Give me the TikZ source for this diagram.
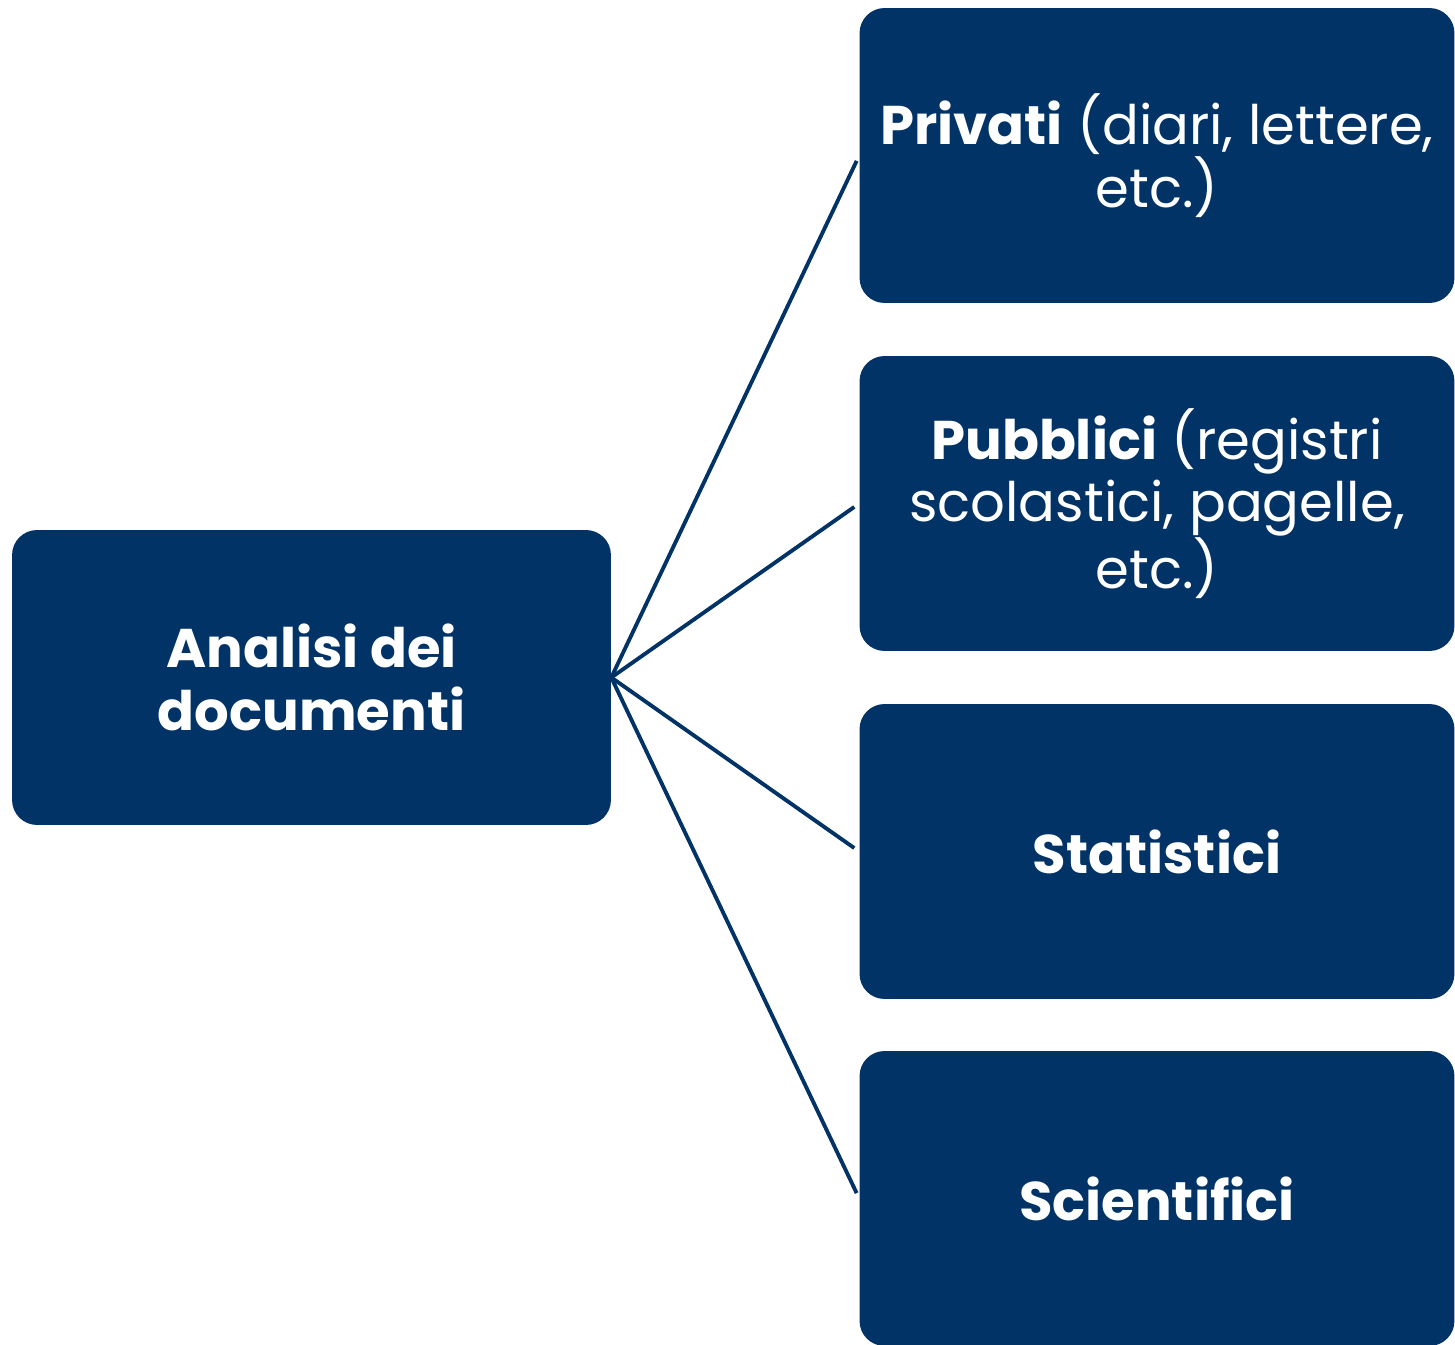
\documentclass[tikz,border=0pt]{standalone}
\usepackage{fontspec}
\setmainfont{Poppins}
\definecolor{navy}{HTML}{013366}
\begin{document}
\begin{tikzpicture}[x=0.02cm,y=-0.02cm,
  box/.style={draw=none,fill=navy,rounded corners=0.5cm,text=white,align=center,
    minimum width=11.9cm,minimum height=5.9cm,inner sep=0pt,
    font=\fontsize{31}{35.5}\selectfont},
  link/.style={draw=navy,line width=2.2pt,shorten >=0.12cm}]
\useasboundingbox (0,0) rectangle (1455,1345);
\node[box,minimum width=11.98cm] (L) at (311.5,677.5) {\textbf{Analisi dei}\\\textbf{documenti}};
\node[box] (A) at (1157,155.5) {\textbf{Privati} (diari, lettere,\\etc.)};
\node[box] (B) at (1157,503.5) {\textbf{Pubblici} (registri\\scolastici, pagelle,\\etc.)};
\node[box] (C) at (1157,851.5) {\textbf{Statistici}};
\node[box] (D) at (1157,1198.5) {\textbf{Scientifici}};
\foreach \t in {A,B,C,D} \draw[link] (L.east) -- (\t.west);
\end{tikzpicture}
\end{document}
